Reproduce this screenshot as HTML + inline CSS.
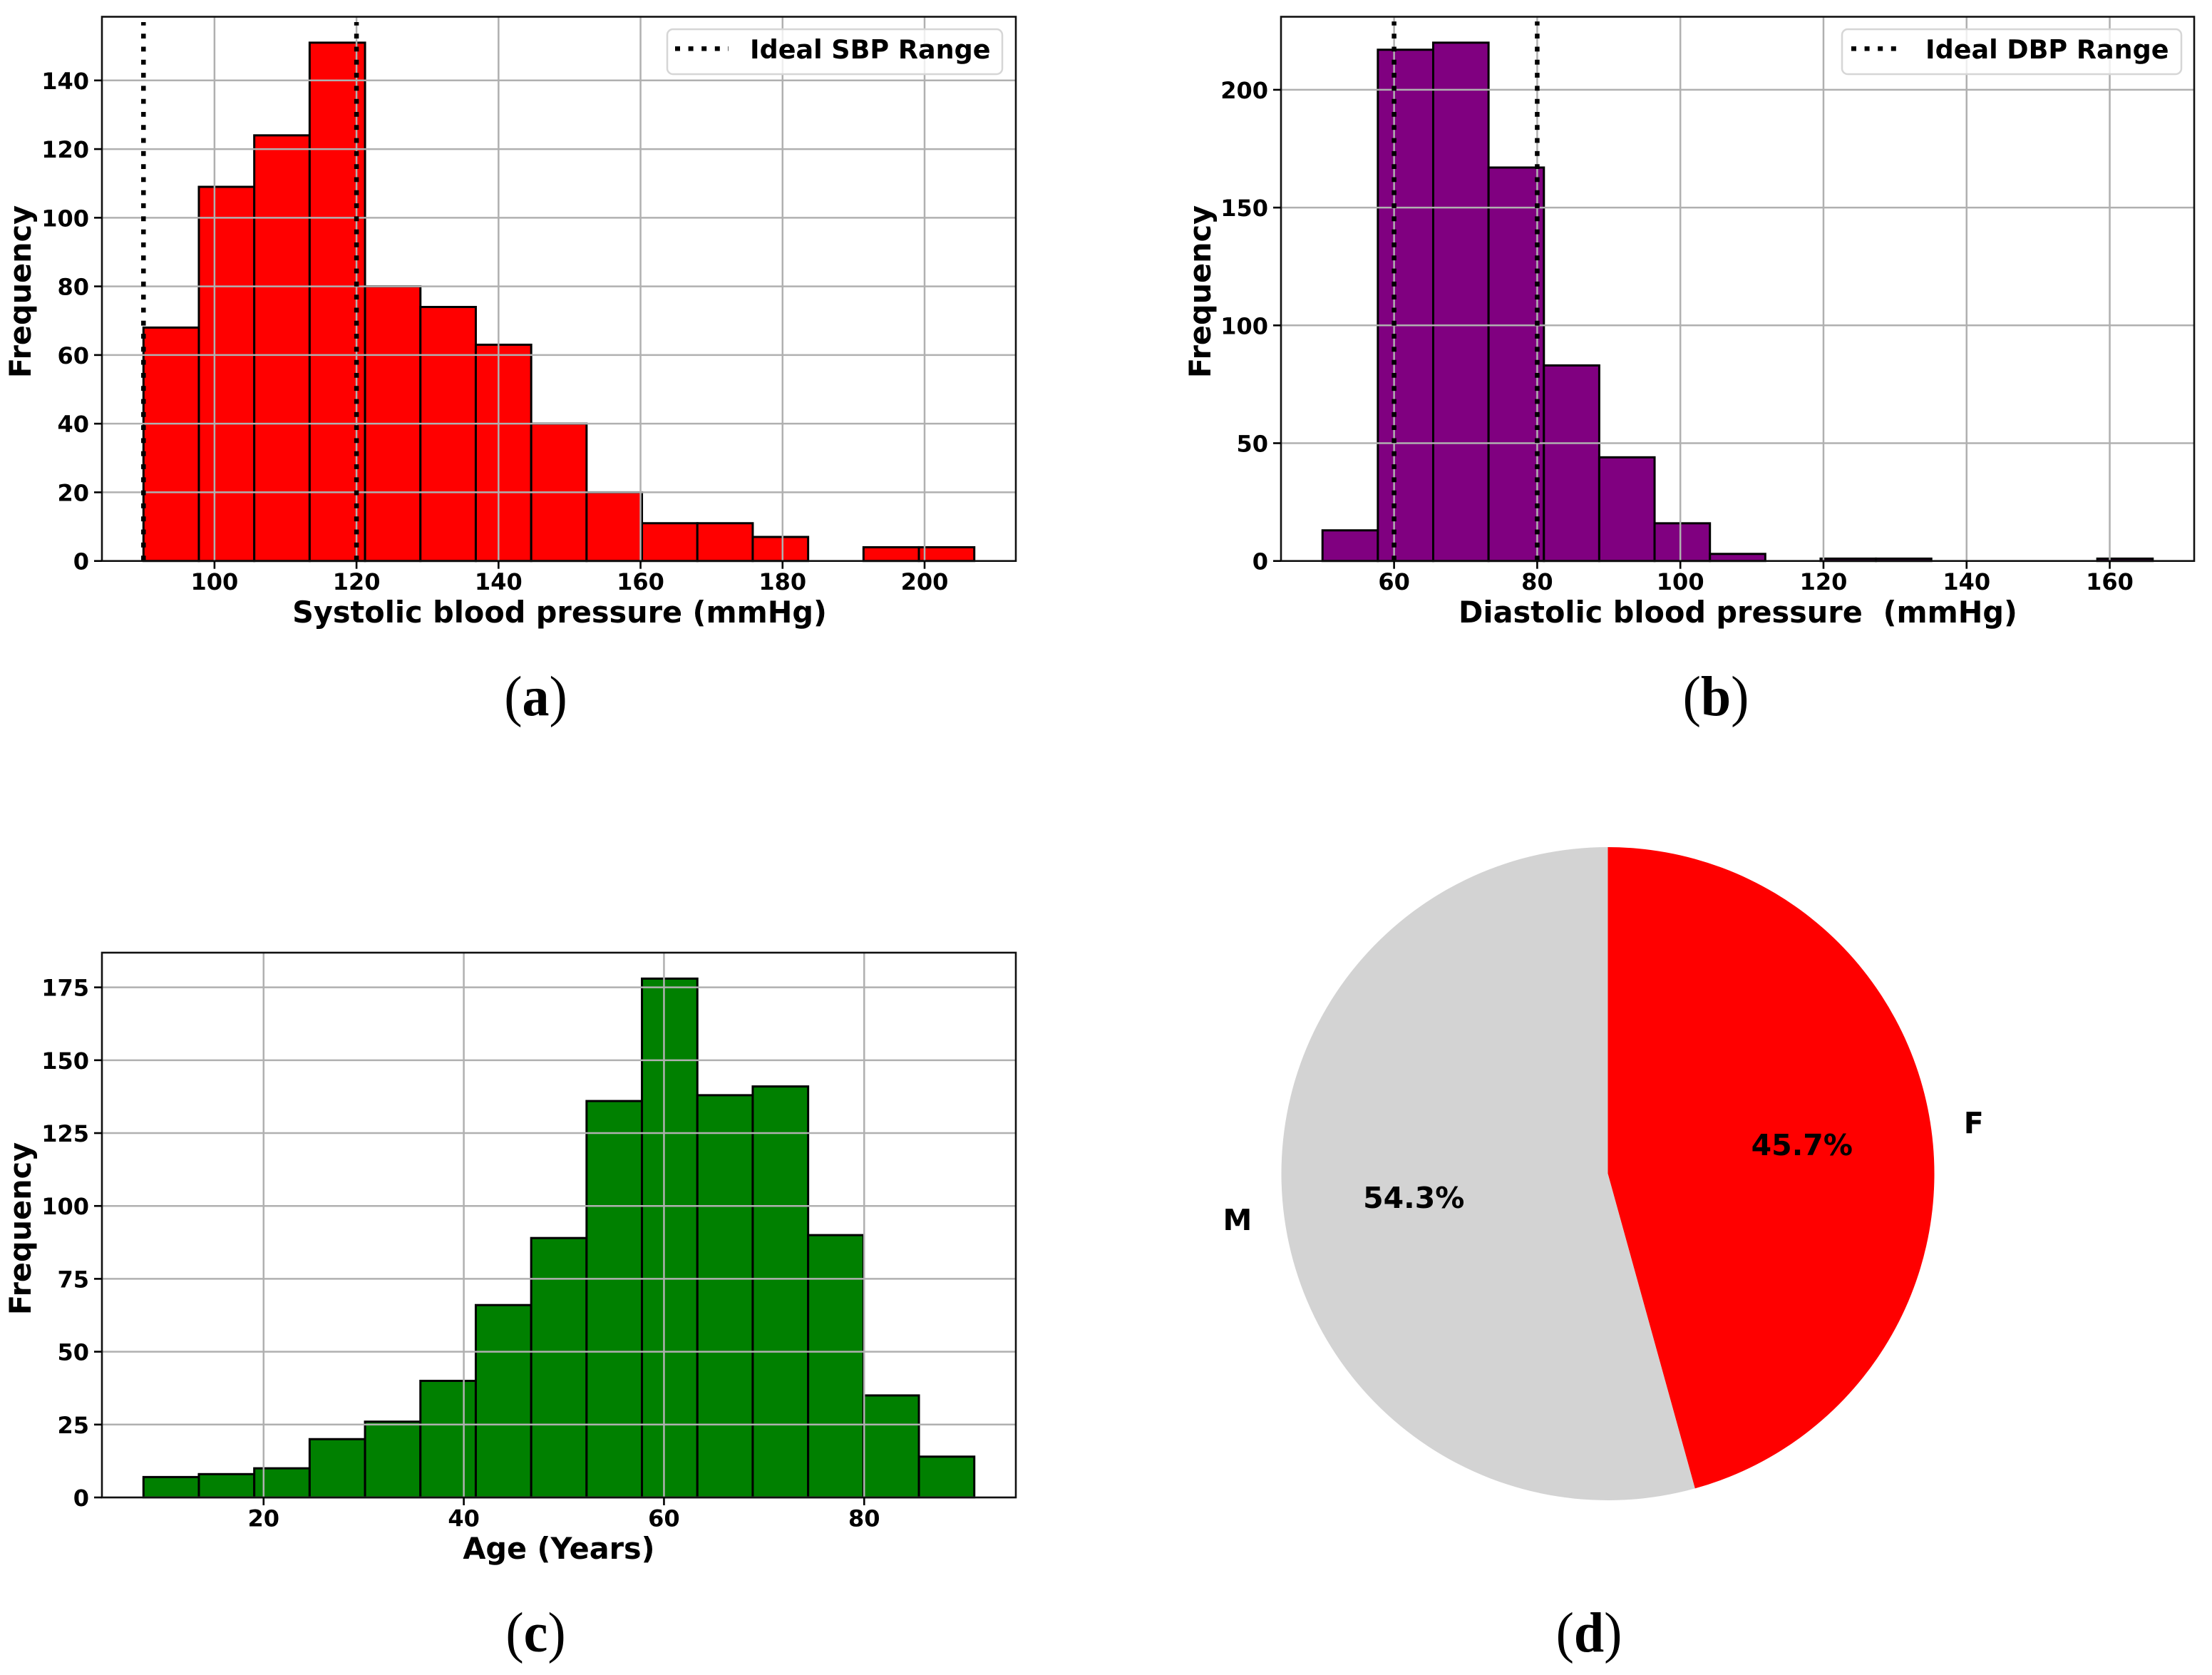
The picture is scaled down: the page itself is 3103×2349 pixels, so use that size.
<!DOCTYPE html>
<html lang="en">
<head>
<meta charset="utf-8">
<title>Blood pressure, age and sex distributions</title>
<style>
  html, body { margin: 0; padding: 0; background: #fff; }
  svg { display: block; }
  text { font-family: "DejaVu Sans", "Liberation Sans", sans-serif; font-weight: 700; fill: #000; }
  .caption { font-family: "Liberation Serif", serif; font-weight: 400; font-size: 76px; }
  .caption tspan { font-weight: 700; }
</style>
</head>
<body>
<svg id="figure" xmlns="http://www.w3.org/2000/svg" width="3103" height="2349" viewBox="0 0 3103 2349">
  <rect x="0" y="0" width="3103" height="2349" fill="#fff"/>

  <g id="panel-a"></g>
  <g id="panel-b"></g>
  <g id="panel-c"></g>
  <g id="panel-d"></g>

  <text x="785" y="873" font-size="41.4" text-anchor="middle">Systolic blood pressure (mmHg)</text>
  <text transform="translate(43,409) rotate(-90)" font-size="41.4" text-anchor="middle">Frequency</text>
  <text class="caption" transform="translate(751.5,1003) scale(1,1.05)" text-anchor="middle">(<tspan>a</tspan>)</text>

  <text x="2438" y="873" font-size="41.4" text-anchor="middle" xml:space="preserve">Diastolic blood pressure  (mmHg)</text>
  <text transform="translate(1698,409) rotate(-90)" font-size="41.4" text-anchor="middle">Frequency</text>
  <text class="caption" transform="translate(2407,1003) scale(1,1.05)" text-anchor="middle">(<tspan>b</tspan>)</text>

  <text x="784" y="2186" font-size="41.4" text-anchor="middle">Age (Years)</text>
  <text transform="translate(43,1723) rotate(-90)" font-size="41.4" text-anchor="middle">Frequency</text>
  <text class="caption" transform="translate(751.5,2316) scale(1,1.05)" text-anchor="middle">(<tspan>c</tspan>)</text>

  <text class="caption" transform="translate(2229,2316) scale(1,1.05)" text-anchor="middle">(<tspan>d</tspan>)</text>

  <g id="legend-a">
    <rect x="936" y="41" width="470" height="63" rx="8" fill="#fff" fill-opacity="0.8" stroke="#d6d6d6" stroke-width="2.5"/>
    <line x1="947" y1="68.3" x2="1022" y2="68.3" stroke="#000" stroke-width="6.5" stroke-dasharray="7 11.6"/>
    <text x="1052" y="82" font-size="36.5">Ideal SBP Range</text>
  </g>
  <g id="legend-b">
    <rect x="2584" y="41" width="476" height="63" rx="8" fill="#fff" fill-opacity="0.8" stroke="#d6d6d6" stroke-width="2.5"/>
    <line x1="2597" y1="68.3" x2="2660" y2="68.3" stroke="#000" stroke-width="6.5" stroke-dasharray="7 11.6"/>
    <text x="2701" y="82" font-size="36.5">Ideal DBP Range</text>
  </g>
</svg>

<script>
/* Panel (a): systolic blood pressure */
const sbpBinStart = 90;
const sbpBinEnd = 207;
const sbpCounts = [68, 109, 124, 151, 80, 74, 63, 40, 20, 11, 11, 7, 0, 4, 4];
const sbpXTicks = [100, 120, 140, 160, 180, 200];
const sbpYTicks = [0, 20, 40, 60, 80, 100, 120, 140];
const sbpRefLines = [90, 120];
const sbpRefTop = 157;

/* Panel (b): diastolic blood pressure */
const dbpBinStart = 50;
const dbpBinEnd = 166;
const dbpCounts = [13, 217, 220, 167, 83, 44, 16, 3, 0, 1, 1, 0, 0, 0, 1];
const dbpXTicks = [60, 80, 100, 120, 140, 160];
const dbpYTicks = [0, 50, 100, 150, 200];
const dbpRefLines = [60, 80];
const dbpRefTop = 229;

/* Panel (c): age */
const ageBinStart = 8;
const ageBinEnd = 91;
const ageCounts = [7, 8, 10, 20, 26, 40, 66, 89, 136, 178, 138, 141, 90, 35, 14];
const ageXTicks = [20, 40, 60, 80];
const ageYTicks = [0, 25, 50, 75, 100, 125, 150, 175];

/* Panel (d): sex */
const sexLabels = ['F', 'M'];
const sexShares = [45.7, 54.3];
const sexColors = ['#ff0000', '#d3d3d3'];

const NS = 'http://www.w3.org/2000/svg';

function mk(tag, attrs, parent) {
  const el = document.createElementNS(NS, tag);
  for (const k in attrs) el.setAttribute(k, attrs[k]);
  parent.appendChild(el);
  return el;
}

function drawHistogram(cfg) {
  const g = document.getElementById(cfg.id);
  const span = cfg.binEnd - cfg.binStart;
  const xMin = cfg.binStart - span * 0.05;
  const xMax = cfg.binEnd + span * 0.05;
  const yMax = Math.max.apply(null, cfg.counts) * 1.05;
  const xAxis = function (v) { return cfg.left + (v - xMin) / (xMax - xMin) * (cfg.right - cfg.left); };
  const yAxis = function (v) { return cfg.bottom - v / yMax * (cfg.bottom - cfg.top); };
  const binWidth = span / cfg.counts.length;

  cfg.counts.forEach(function (c, i) {
    const x0 = xAxis(cfg.binStart + i * binWidth);
    const x1 = xAxis(cfg.binStart + (i + 1) * binWidth);
    const bar = mk('rect', { x: x0, y: yAxis(c), width: x1 - x0, height: cfg.bottom - yAxis(c), fill: cfg.color, stroke: '#000', 'stroke-width': 3 }, g);
    
    
  });

  cfg.xTicks.forEach(function (t) {
    const x = xAxis(t);
    const grid = mk('line', { x1: x, x2: x, y1: cfg.top, y2: cfg.bottom, stroke: '#b0b0b0', 'stroke-width': 2.5 }, g);
    
    
  });
  cfg.yTicks.forEach(function (t) {
    const y = yAxis(t);
    const grid = mk('line', { x1: cfg.left, x2: cfg.right, y1: y, y2: y, stroke: '#b0b0b0', 'stroke-width': 2.5 }, g);
    
    
  });

  (cfg.refLines || []).forEach(function (v) {
    const ref = mk('line', { x1: xAxis(v), x2: xAxis(v), y1: cfg.bottom - 0.7, y2: yAxis(cfg.refTop), stroke: '#000', 'stroke-width': 6.5, 'stroke-dasharray': '6.8 11.5' }, g);
    
    
  });

  const frame = mk('rect', { x: cfg.left, y: cfg.top, width: cfg.right - cfg.left, height: cfg.bottom - cfg.top, fill: 'none', stroke: '#111', 'stroke-width': 2.6 }, g);
  
  

  cfg.xTicks.forEach(function (t) {
    const x = xAxis(t);
    const tick = mk('line', { x1: x, x2: x, y1: cfg.bottom, y2: cfg.bottom + 11, stroke: '#000', 'stroke-width': 2.6 }, g);
    
    
    const label = mk('text', { x: x, y: cfg.bottom + 40.5, 'font-size': 32, 'text-anchor': 'middle' }, g);
    
    
    label.textContent = t;
  });
  cfg.yTicks.forEach(function (t) {
    const y = yAxis(t);
    const tick = mk('line', { x1: cfg.left - 11, x2: cfg.left, y1: y, y2: y, stroke: '#000', 'stroke-width': 2.6 }, g);
    
    
    const label = mk('text', { x: cfg.left - 18, y: y + 12, 'font-size': 32, 'text-anchor': 'end' }, g);
    
    
    label.textContent = t;
  });
}

drawHistogram({ id: 'panel-a', prefix: 'systolic', left: 143, right: 1425, top: 23.5, bottom: 786.7, color: '#ff0000',
  binStart: sbpBinStart, binEnd: sbpBinEnd, counts: sbpCounts, xTicks: sbpXTicks, yTicks: sbpYTicks, refLines: sbpRefLines, refTop: sbpRefTop });
drawHistogram({ id: 'panel-b', prefix: 'diastolic', left: 1797, right: 3078, top: 23.5, bottom: 786.7, color: '#800080',
  binStart: dbpBinStart, binEnd: dbpBinEnd, counts: dbpCounts, xTicks: dbpXTicks, yTicks: dbpYTicks, refLines: dbpRefLines, refTop: dbpRefTop });
drawHistogram({ id: 'panel-c', prefix: 'age', left: 143, right: 1425, top: 1336, bottom: 2100, color: '#008000',
  binStart: ageBinStart, binEnd: ageBinEnd, counts: ageCounts, xTicks: ageXTicks, yTicks: ageYTicks });

(function drawPie() {
  const g = document.getElementById('panel-d');
  const cx = 2255.5, cy = 1646, r = 458;
  const total = sexShares.reduce(function (a, b) { return a + b; }, 0);
  let angle = 90;
  sexShares.forEach(function (share, i) {
    const sweep = share / total * 360;
    const a0 = angle * Math.PI / 180;
    const a1 = (angle - sweep) * Math.PI / 180;
    const mid = (angle - sweep / 2) * Math.PI / 180;
    const large = sweep > 180 ? 1 : 0;
    const d = 'M' + cx + ' ' + cy +
      'L' + (cx + r * Math.cos(a0)) + ' ' + (cy - r * Math.sin(a0)) +
      'A' + r + ' ' + r + ' 0 ' + large + ' 1 ' + (cx + r * Math.cos(a1)) + ' ' + (cy - r * Math.sin(a1)) + 'Z';
    const slice = mk('path', { d: d, fill: sexColors[i] }, g);
    
    

    const side = Math.cos(mid) >= 0;
    const label = mk('text', { x: cx + 1.1 * r * Math.cos(mid), y: cy - 1.1 * r * Math.sin(mid) + 11, 'font-size': 41, 'text-anchor': side ? 'start' : 'end' }, g);
    
    
    label.textContent = sexLabels[i];

    const pct = mk('text', { x: cx + 0.6 * r * Math.cos(mid), y: cy - 0.6 * r * Math.sin(mid) + 11, 'font-size': 41, 'text-anchor': 'middle' }, g);
    
    
    pct.textContent = share.toFixed(1) + '%';

    angle -= sweep;
  });
})();
</script>
</body>
</html>
